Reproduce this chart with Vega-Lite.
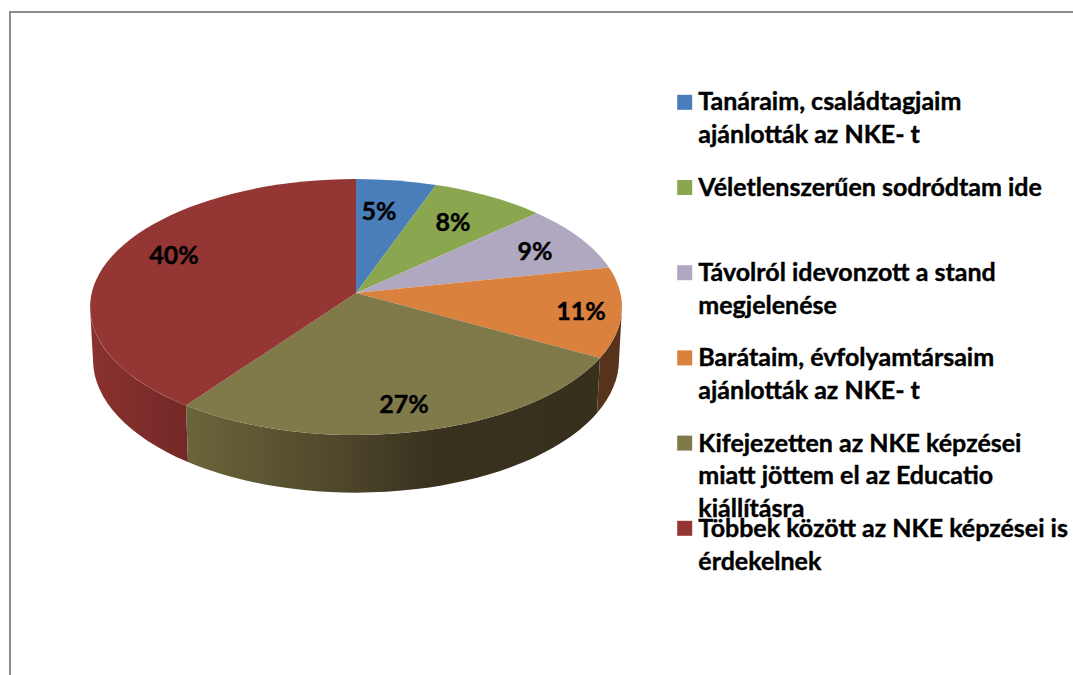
{
"$schema":"https://vega.github.io/schema/vega-lite/v6.json",
"width":712,"height":586,
"autosize":"none",
"padding":{"left":0,"top":0,"right":361,"bottom":89},
"background":"white",
"view":{"stroke":null},
"data":{"values":[
{"label":"Tanáraim, családtagjaim|ajánlották az NKE- t","pct":0.05},
{"label":"Véletlenszerűen sodródtam ide","pct":0.08},
{"label":"Távolról idevonzott a stand|megjelenése","pct":0.09},
{"label":"Barátaim, évfolyamtársaim|ajánlották az NKE- t","pct":0.11},
{"label":"Kifejezetten az NKE képzései|miatt jöttem el az Educatio|kiállításra","pct":0.27},
{"label":"Többek között az NKE képzései is|érdekelnek","pct":0.40}
]},
"layer":[
{"data":{"values":[{"part":"chart area"}]},
 "mark":{"type":"point","shape":"M-346 382 L-346 -281 L717 -281","size":4,"filled":false,"stroke":"#8c8c8c","strokeWidth":2,"opacity":1}},
{"transform":[{"filter":"datum.pct==0.40"}],
 "mark":{"type":"point","filled":true,"size":4,"opacity":1,"strokeWidth":0,
  "shape":"M-266 14 A266 128 0 0 0 -170 112.4 L-168 169 A263 133 0 0 1 -263 67 Z",
  "fill":{"gradient":"linear","x1":0,"y1":0,"x2":1,"y2":0,"stops":[{"offset":0,"color":"#8a312f"},{"offset":1,"color":"#742927"}]}}},
{"transform":[{"filter":"datum.pct==0.27"}],
 "mark":{"type":"point","filled":true,"size":4,"opacity":1,"strokeWidth":0,
  "shape":"M-170 112.4 A266 128 0 0 0 244 65 L241 120 A263 133 0 0 1 -168 169 Z",
  "fill":{"gradient":"linear","x1":0,"y1":0,"x2":1,"y2":0,"stops":[{"offset":0,"color":"#6b653a"},{"offset":0.42,"color":"#4a4329"},{"offset":0.6,"color":"#38311e"},{"offset":1,"color":"#36301c"}]}}},
{"transform":[{"filter":"datum.pct==0.11"}],
 "mark":{"type":"point","filled":true,"size":4,"opacity":1,"strokeWidth":0,
  "shape":"M244 65 A266 128 0 0 0 266 14 L263 67 A263 133 0 0 1 241 120 Z",
  "fill":"#56331a"}},
{"mark":{"type":"point","filled":true,"size":4,"opacity":1,"strokeWidth":0},
 "encoding":{
  "shape":{"field":"pct","type":"nominal","legend":null,"scale":{"domain":[0.05,0.08,0.09,0.11,0.27,0.40],"range":[
   "M0 0 L0 -114 A266 128 0 0 1 80 -108 Z",
   "M0 0 L80 -108 A266 128 0 0 1 181 -79.8 Z",
   "M0 0 L181 -79.8 A266 128 0 0 1 253 -25.5 Z",
   "M0 0 L253 -25.5 A266 128 0 0 1 244 65 Z",
   "M0 0 L244 65 A266 128 0 0 1 -170 112.4 Z",
   "M0 0 L-170 112.4 A266 128 0 0 1 0 -114 Z"]}},
  "color":{"field":"pct","type":"nominal","legend":null,"scale":{"domain":[0.05,0.08,0.09,0.11,0.27,0.40],"range":["#4a7ebb","#8aa64f","#b0a7c1","#da813d","#807a4a","#933634"]}}
 }},
{"mark":{"type":"text","font":"Lato","fontWeight":"bold","fontSize":25,"color":"#000000","stroke":"#000000","strokeWidth":0.4,"align":"center","baseline":"middle"},
 "encoding":{
  "x":{"field":"pct","type":"quantitative","axis":null,"scale":{"domain":[0.05,0.08,0.09,0.11,0.27,0.40],"range":[379,453,535,581,404,174]}},
  "y":{"field":"pct","type":"quantitative","axis":null,"scale":{"domain":[0.05,0.08,0.09,0.11,0.27,0.40],"range":[212,223,252,312,405,256]}},
  "text":{"field":"pct","type":"quantitative","format":".0%"}
 }},
{"mark":{"type":"square","size":225,"opacity":1,"xOffset":328.7},
 "encoding":{
  "y":{"field":"pct","type":"nominal","axis":null,"scale":{"type":"point","padding":0,"domain":[0.05,0.08,0.09,0.11,0.27,0.40],"range":[102.3,528.3]}},
  "color":{"field":"pct","type":"nominal","legend":null}
 }},
{"mark":{"type":"text","font":"Lato","fontWeight":"bold","fontSize":25,"color":"#000000","stroke":"#000000","strokeWidth":0.4,"align":"left","baseline":"alphabetic","lineBreak":"|","lineHeight":32.8,"xOffset":342.3},
 "encoding":{
  "y":{"field":"pct","type":"nominal","axis":null,"scale":{"type":"point","padding":0,"domain":[0.05,0.08,0.09,0.11,0.27,0.40],"range":[110.3,536.8]}},
  "text":{"field":"label","type":"nominal"}
 }}
],
"resolve":{"scale":{"x":"independent","y":"independent","shape":"independent"}}
}
